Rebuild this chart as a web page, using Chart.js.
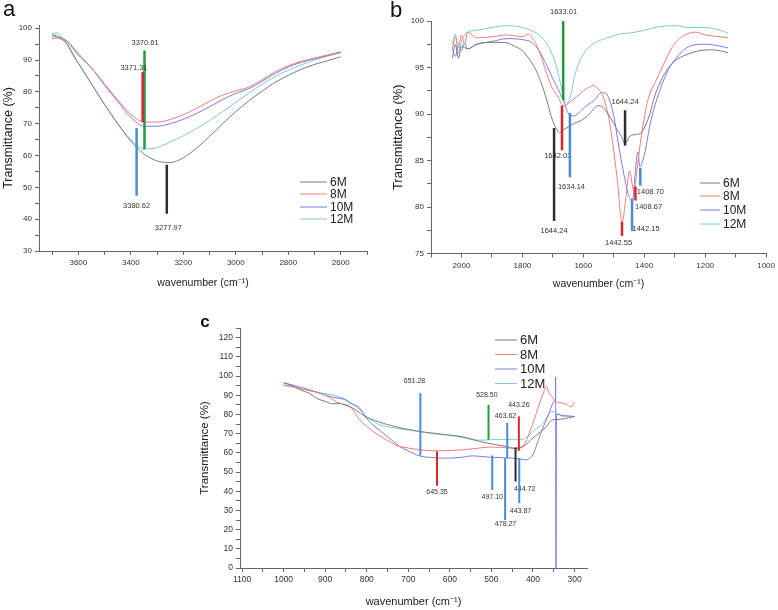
<!DOCTYPE html>
<html>
<head>
<meta charset="utf-8">
<title>FTIR spectra 6M-12M</title>
<script src="https://cdn.jsdelivr.net/npm/chart.js@4.4.1/dist/chart.umd.min.js"></script>
<style>
  html, body { margin: 0; padding: 0; background: #fff; }
  #wrap { position: relative; width: 778px; height: 610px; }
  #wrap canvas { position: absolute; left: 0; top: 0; }
</style>
</head>
<body>
<div id="wrap">
  <canvas id="panelA" width="778" height="610"></canvas>
  <canvas id="panelB" width="778" height="610"></canvas>
  <canvas id="panelC" width="778" height="610"></canvas>
</div>
<script>
// ---- данные: панель a (3750–2500 cm-1) ----
const waveA = [3700, 3680, 3660, 3640, 3620, 3600, 3550, 3500, 3450, 3400, 3350, 3300, 3250,
  3200, 3150, 3100, 3050, 3000, 2950, 2900, 2850, 2800, 2750, 2700, 2650, 2600];
const a6M  = [98, 97.5, 96.5, 94.5, 91.5, 89, 82.5, 76, 70, 64.5, 60.5, 58.3, 57.8,
  59.3, 62.3, 66, 70, 73.8, 77.2, 80.2, 83, 85.2, 87.1, 88.6, 89.8, 91];
const a8M  = [96.8, 96.8, 96.3, 95.5, 93.5, 91.5, 87.5, 82.5, 77.5, 73, 70.5, 70.5, 71.3,
  72.8, 74.8, 77, 79, 80.3, 81.5, 83.8, 86.3, 88.2, 89.6, 90.6, 91.6, 92.6];
const a10M = [97.5, 97.2, 96.8, 95.8, 94, 92, 87.5, 82, 77, 72, 69.2, 69.2, 70,
  71.4, 73.2, 75.3, 77.6, 79.5, 81, 83.3, 85.8, 87.8, 89.3, 90.4, 91.4, 92.4];
const a12M = [98.3, 98.5, 96.8, 94.8, 92, 89, 82.5, 76, 70, 65, 62, 62.5, 64.2,
  66.2, 68.5, 71, 73.8, 76.7, 79.6, 82.4, 84.8, 86.8, 88.5, 90, 91.2, 92.3];

// пики: wave — положение, from/to — концы отрезка, tw/tt — положение подписи
const marksA = [
  { series: '12M', wave: 3348, from: 93, to: 62, text: '3370.61', tw: 3346, tt: 95.3 },
  { series: '8M', wave: 3355, from: 86.2, to: 70.5, text: '3371.31', tw: 3388, tt: 87.5 },
  { series: '10M', wave: 3378, from: 68.6, to: 47.4, text: '3380.62', tw: 3378, tt: 44.3 },
  { series: '6M', wave: 3263, from: 57.1, to: 41.7, text: '3277.97', tw: 3257, tt: 37.4 }
];

// ---- данные: панель b (2100–1000 cm-1) ----
const b6M_x = [2030, 2020, 2010, 2000, 1980, 1950, 1900, 1860, 1820, 1800, 1780, 1760, 1740, 1720, 1705,
  1690, 1677, 1665, 1650, 1630, 1607, 1580, 1552, 1535, 1519, 1500, 1487, 1475, 1463, 1450, 1443,
  1425, 1410, 1394, 1380, 1367, 1345, 1320, 1300, 1260, 1220, 1180, 1150, 1125];
const b6M_y = [96.0, 97.5, 96.0, 97.3, 97.0, 97.5, 97.7, 97.7, 97.2, 96.8, 96.0, 95.0, 93.5, 91.5, 89.7,
  88.5, 88.0, 88.3, 88.6, 89.0, 89.3, 90.0, 90.9, 90.7, 90.0, 89.0, 88.2, 87.6, 86.8, 87.5, 87.7,
  87.8, 88.0, 88.9, 90.2, 91.8, 93.6, 95.0, 95.7, 96.4, 96.8, 96.9, 96.8, 96.6];
const b8M_x = [2030, 2020, 2010, 2000, 1990, 1980, 1950, 1900, 1850, 1800, 1780, 1760, 1745, 1725, 1705,
  1682, 1667, 1655, 1640, 1620, 1600, 1580, 1568, 1555, 1540, 1530, 1515, 1500, 1487, 1473, 1462,
  1448, 1440, 1434, 1422, 1410, 1388, 1361, 1330, 1300, 1260, 1230, 1200, 1150, 1125];
const b8M_y = [97.0, 98.3, 97.3, 98.5, 97.5, 98.8, 98.2, 98.3, 98.5, 98.3, 98.6, 97.8, 96.8, 94.8, 93.0,
  91.8, 90.9, 91.0, 91.4, 91.9, 92.5, 92.9, 93.1, 92.8, 92.2, 91.4, 89.3, 86.0, 82.5, 78.3, 80.5,
  83.9, 82.5, 81.7, 84.5, 87.5, 91.5, 93.6, 95.8, 97.6, 98.6, 98.8, 98.5, 98.3, 98.2];
const b10M_x = [2030, 2020, 2010, 2000, 1990, 1980, 1950, 1900, 1850, 1800, 1770, 1745, 1720, 1700, 1680,
  1660, 1650, 1630, 1607, 1585, 1563, 1540, 1525, 1514, 1500, 1487, 1465, 1448, 1438, 1432, 1421,
  1414, 1405, 1399, 1378, 1345, 1320, 1300, 1270, 1240, 1200, 1150, 1125];
const b10M_y = [97.0, 96.2, 97.3, 96.8, 97.6, 97.0, 97.5, 97.8, 98.1, 98.0, 97.7, 96.8, 95.2, 93.8, 92.5,
  91.0, 90.1, 89.8, 90.4, 91.0, 91.5, 92.3, 92.2, 91.5, 89.8, 87.2, 83.2, 81.0, 80.8, 82.8, 85.9,
  84.3, 85.0, 85.7, 89.3, 92.9, 94.8, 95.8, 96.9, 97.4, 97.5, 97.3, 97.1];
const b12M_x = [2030, 2020, 2010, 2000, 1980, 1950, 1900, 1850, 1800, 1760, 1730, 1710, 1690, 1675, 1662,
  1652, 1640, 1627, 1610, 1590, 1560, 1520, 1480, 1450, 1400, 1350, 1300, 1250, 1200, 1150, 1125];
const b12M_y = [97.5, 98.6, 96.5, 97.8, 98.8, 99.0, 99.3, 99.5, 99.3, 98.8, 98.0, 97.0, 95.3, 93.3, 91.5,
  91.2, 92.2, 94.3, 95.8, 96.9, 97.7, 98.2, 98.6, 98.7, 99.0, 99.4, 99.5, 99.3, 99.3, 99.0, 98.7];

const marksB = [
  { series: '6M', wave: 1696, from: 88.5, to: 78.5, text: '1644.24', tw: 1696, tt: 77.4 },
  { series: '8M', wave: 1670, from: 90.9, to: 86.1, text: '1642.01', tw: 1684, tt: 85.5 },
  { series: '10M', wave: 1644, from: 90.1, to: 83.2, text: '1634.14', tw: 1639, tt: 82.2 },
  { series: '12M', wave: 1666, from: 100, to: 91.5, text: '1633.01', tw: 1665, tt: 101 },
  { series: '6M', wave: 1463, from: 90.4, to: 86.6, text: '1644.24', tw: 1463, tt: 91.3 },
  { series: '8M', wave: 1473, from: 78.4, to: 76.9, text: '1442.55', tw: 1484, tt: 76.1 },
  { series: '10M', wave: 1440, from: 80.9, to: 77.4, text: '1442.15', tw: 1394, tt: 77.6 },
  { series: '8M', wave: 1429, from: 82.2, to: 80.7, text: '1408.67', tw: 1386, tt: 80.0 },
  { series: '10M', wave: 1413, from: 84.2, to: 82.3, text: '1408.70', tw: 1380, tt: 81.6 }
];

// ---- данные: панель c (1105–270 cm-1) ----
const c6M_x = [1000, 980, 960, 940, 920, 900, 882, 865, 850, 834, 815, 800, 780, 760, 740, 720, 700, 673,
  640, 608, 570, 528, 488, 460, 448, 435, 424, 412, 400, 388, 376, 366, 360, 352, 340, 327, 315, 300];
const c6M_y = [96.5, 95.0, 92.8, 91.2, 88.3, 86.8, 85.5, 85.7, 84.6, 83.3, 80.5, 78.5, 76.8, 75.3, 74.2,
  73.0, 72.2, 71.1, 70.2, 69.4, 68.4, 65.9, 64.2, 63.2, 62.4, 62.3, 63.3, 65.2, 67.7, 69.8, 72.0,
  74.0, 76.0, 77.2, 77.4, 77.6, 78.2, 78.9];
const c8M_x = [1000, 970, 940, 910, 890, 873, 860, 841, 830, 817, 800, 785, 769, 753, 737, 721, 700, 673,
  633, 600, 568, 535, 504, 475, 448, 424, 412, 400, 392, 384, 376, 368, 362, 355, 344, 332, 320, 308, 300];
const c8M_y = [95.5, 94.0, 92.5, 90.8, 89.0, 86.5, 85.5, 84.2, 81.5, 77.2, 73.8, 71.1, 69.0, 66.8, 64.8,
  63.3, 62.5, 61.6, 61.0, 61.2, 61.6, 62.3, 63.0, 62.8, 62.4, 63.3, 68.5, 75.5, 80.5, 85.9, 90.5,
  94.5, 91.5, 89.5, 86.5, 86.0, 85.2, 84.0, 86.5];
const c10M_x = [1000, 970, 940, 910, 882, 857, 850, 841, 830, 817, 801, 785, 761, 741, 721, 700, 673, 640,
  608, 575, 544, 504, 470, 448, 430, 416, 408, 400, 392, 384, 376, 368, 360, 352, 348, 346, 345.5,
  344.5, 343.5, 335, 320, 310, 300];
const c10M_y = [96.5, 94.8, 93.0, 90.8, 89.0, 88.0, 87.5, 85.9, 85.0, 83.3, 78.1, 74.5, 70.3, 66.8, 63.3,
  61.0, 58.4, 57.5, 57.2, 57.6, 58.4, 57.7, 57.4, 57.2, 56.8, 56.3, 57.2, 59.0, 63.5, 68.5, 73.0,
  77.2, 81.5, 85.9, 87.0, 88.0, 99.5, 0, 80.0, 79.8, 79.2, 79.0, 78.9];
const c12M_x = [1000, 970, 940, 910, 882, 865, 849, 837, 825, 812, 801, 785, 769, 745, 721, 700, 673, 640,
  608, 575, 544, 524, 504, 470, 440, 424, 412, 400, 388, 376, 366, 356, 348, 338, 327, 315, 300];
const c12M_y = [95.0, 94.0, 92.5, 91.2, 90.2, 89.0, 87.6, 85.8, 84.0, 81.5, 79.0, 76.5, 74.6, 73.4, 72.5,
  71.8, 71.1, 70.0, 69.2, 68.2, 66.8, 66.6, 66.8, 67.0, 67.0, 67.1, 68.8, 71.1, 73.2, 75.4, 78.5,
  81.6, 81.3, 80.0, 78.9, 79.2, 78.9];

const marksC = [
  { series: '10M', wave: 671, from: 91.1, to: 58.6, text: '651.28', tw: 685, tt: 97.2 },
  { series: '8M', wave: 631, from: 60.7, to: 42.8, text: '645.35', tw: 631, tt: 39.3 },
  { series: '12M', wave: 507, from: 85, to: 66.8, text: '528.50', tw: 511, tt: 90.2 },
  { series: '10M', wave: 498, from: 58.6, to: 40.7, text: '497.10', tw: 498, tt: 37.2 },
  { series: '10M', wave: 467, from: 57.2, to: 25, text: '478.27', tw: 466, tt: 23 },
  { series: '10M', wave: 462, from: 75.5, to: 57.2, text: '463.62', tw: 466, tt: 79 },
  { series: '6M', wave: 442, from: 62.8, to: 45, text: '444.72', tw: 420, tt: 41 },
  { series: '8M', wave: 434, from: 79, to: 61, text: '443.26', tw: 434, tt: 84.7 },
  { series: '10M', wave: 433, from: 57.2, to: 33.7, text: '443.87', tw: 430, tt: 29.9 }
];

const seriesNames = ['6M', '8M', '10M', '12M'];

// ---- стили ----
const FONT = '"Liberation Sans", Arial, sans-serif';
const LINE_COLORS = { '6M': '#7c7c7c', '8M': '#f27b7b', '10M': '#7b7bf0', '12M': '#7ccdc6' };
const MARK_COLORS = { '6M': '#2e2e2e', '8M': '#d8262b', '10M': '#4d8bd0', '12M': '#1f9e3c' };
const AXIS_COLOR = '#666';

function toPoints(xs, ys) {
  return xs.map((x, i) => ({ x, y: ys[i] }));
}

// отрисовка пиков, легенды и буквы панели
function decorPlugin(panel) {
  return {
    id: 'decor',
    afterDatasetsDraw(chart) {
      const { ctx } = chart;
      const xs = chart.scales.x;
      const ys = chart.scales.y;
      ctx.save();
      panel.marks.forEach(m => {
        const px = xs.getPixelForValue(m.wave);
        ctx.strokeStyle = MARK_COLORS[m.series];
        ctx.lineWidth = panel.markWidth;
        ctx.beginPath();
        ctx.moveTo(px, ys.getPixelForValue(m.from));
        ctx.lineTo(px, ys.getPixelForValue(m.to));
        ctx.stroke();
        ctx.fillStyle = '#333';
        ctx.font = panel.markFont;
        ctx.textAlign = 'center';
        ctx.textBaseline = 'middle';
        ctx.fillText(m.text, xs.getPixelForValue(m.tw), ys.getPixelForValue(m.tt));
      });

      const lg = panel.legend;
      seriesNames.forEach((name, i) => {
        ctx.strokeStyle = LINE_COLORS[name];
        ctx.lineWidth = 1;
        ctx.beginPath();
        ctx.moveTo(lg.x1, lg.ys[i]);
        ctx.lineTo(lg.x2, lg.ys[i]);
        ctx.stroke();
        ctx.fillStyle = '#222';
        ctx.font = lg.font;
        ctx.textAlign = 'left';
        ctx.textBaseline = 'middle';
        ctx.fillText(name, lg.tx, lg.ys[i] + 0.5);
      });

      ctx.fillStyle = '#111';
      ctx.font = panel.letter.font;
      ctx.textAlign = 'center';
      ctx.textBaseline = 'middle';
      ctx.fillText(panel.letter.text, panel.letter.x, panel.letter.y);
      ctx.restore();
    }
  };
}

function renderPanel(canvasId, panel) {
  const box = panel.box;
  const yTitleHalf = panel.yTitleSize * 0.6;
  const xTitleHalf = panel.xTitleSize * 0.6;
  const padLeft = box.yTitleX - yTitleHalf;
  const scaleBottom = box.xTitleY + xTitleHalf;

  const tickLabel = major => v => (Math.abs(v % major) < 1e-6 ? String(v) : '');

  const config = {
    type: 'line',
    data: {
      datasets: panel.series.map(s => ({
        label: s.name,
        data: toPoints(s.x, s.y),
        borderColor: LINE_COLORS[s.name],
        borderWidth: 1,
        pointRadius: 0,
        fill: false,
        cubicInterpolationMode: 'monotone'
      }))
    },
    options: {
      responsive: false,
      animation: false,
      events: [],
      layout: {
        padding: { left: padLeft, top: box.top, right: 778 - box.right, bottom: 610 - scaleBottom }
      },
      plugins: { legend: { display: false }, tooltip: { enabled: false } },
      scales: {
        x: {
          type: 'linear',
          position: 'bottom',
          reverse: true,
          min: panel.xMin,
          max: panel.xMax,
          afterFit: scale => { scale.height = scaleBottom - box.bottom; },
          border: { display: true, color: AXIS_COLOR, width: 1 },
          grid: { drawOnChartArea: false, drawTicks: true, tickLength: 4, color: AXIS_COLOR },
          ticks: {
            stepSize: panel.xStep,
            includeBounds: false,
            autoSkip: false,
            maxRotation: 0,
            padding: 3,
            color: '#333',
            font: { family: FONT, size: panel.tickSize },
            callback: tickLabel(panel.xMajor)
          },
          title: {
            display: true,
            text: 'wavenumber (cm⁻¹)',
            color: '#222',
            padding: 0,
            font: { family: FONT, size: panel.xTitleSize }
          }
        },
        y: {
          type: 'linear',
          position: 'left',
          min: panel.yMin,
          max: panel.yMax,
          afterFit: scale => { scale.width = box.left - padLeft; },
          border: { display: true, color: AXIS_COLOR, width: 1 },
          grid: { drawOnChartArea: false, drawTicks: true, tickLength: 4, color: AXIS_COLOR },
          ticks: {
            stepSize: panel.yStep,
            includeBounds: false,
            autoSkip: false,
            padding: 3,
            color: '#333',
            font: { family: FONT, size: panel.tickSize },
            callback: tickLabel(panel.yMajor)
          },
          title: {
            display: true,
            text: 'Transmittance (%)',
            color: '#222',
            padding: 0,
            font: { family: FONT, size: panel.yTitleSize }
          }
        }
      }
    },
    plugins: [decorPlugin(panel)]
  };

  const canvas = document.getElementById(canvasId);
  return new Chart(canvas.getContext('2d'), config);
}

renderPanel('panelA', {
  xMin: 2500, xMax: 3750, xStep: 100, xMajor: 200,
  yMin: 30, yMax: 101, yStep: 5, yMajor: 10,
  box: { left: 39, top: 25, right: 367, bottom: 251, yTitleX: 9, xTitleY: 283 },
  tickSize: 8, yTitleSize: 12.5, xTitleSize: 10.5,
  series: [
    { name: '6M', x: waveA, y: a6M },
    { name: '8M', x: waveA, y: a8M },
    { name: '10M', x: waveA, y: a10M },
    { name: '12M', x: waveA, y: a12M }
  ],
  marks: marksA, markWidth: 2.5, markFont: '7.5px ' + FONT,
  legend: { x1: 300, x2: 327, tx: 330, ys: [182, 194, 207, 219], font: '12px ' + FONT },
  letter: { text: 'a', x: 9, y: 10, font: '22px ' + FONT }
});

renderPanel('panelB', {
  xMin: 1000, xMax: 2100, xStep: 100, xMajor: 200,
  yMin: 75, yMax: 100, yStep: 2.5, yMajor: 5,
  box: { left: 431, top: 21, right: 768, bottom: 253.5, yTitleX: 398, xTitleY: 284 },
  tickSize: 8, yTitleSize: 13, xTitleSize: 10.5,
  series: [
    { name: '6M', x: b6M_x, y: b6M_y },
    { name: '8M', x: b8M_x, y: b8M_y },
    { name: '10M', x: b10M_x, y: b10M_y },
    { name: '12M', x: b12M_x, y: b12M_y }
  ],
  marks: marksB, markWidth: 2.5, markFont: '7.5px ' + FONT,
  legend: { x1: 700, x2: 720, tx: 723, ys: [183, 196, 210, 224], font: '12px ' + FONT },
  letter: { text: 'b', x: 396, y: 11, font: '22px ' + FONT }
});

renderPanel('panelC', {
  xMin: 270, xMax: 1105, xStep: 50, xMajor: 100,
  yMin: 0, yMax: 125, yStep: 5, yMajor: 10,
  box: { left: 240, top: 328, right: 587, bottom: 568, yTitleX: 205, xTitleY: 602 },
  tickSize: 8.5, yTitleSize: 11.5, xTitleSize: 11,
  series: [
    { name: '6M', x: c6M_x, y: c6M_y },
    { name: '8M', x: c8M_x, y: c8M_y },
    { name: '10M', x: c10M_x, y: c10M_y },
    { name: '12M', x: c12M_x, y: c12M_y }
  ],
  marks: marksC, markWidth: 2, markFont: '7px ' + FONT,
  legend: { x1: 495, x2: 517, tx: 520, ys: [340, 354.5, 369, 383.5], font: '13px ' + FONT },
  letter: { text: 'c', x: 205, y: 322, font: 'bold 17px ' + FONT }
});
</script>
</body>
</html>
